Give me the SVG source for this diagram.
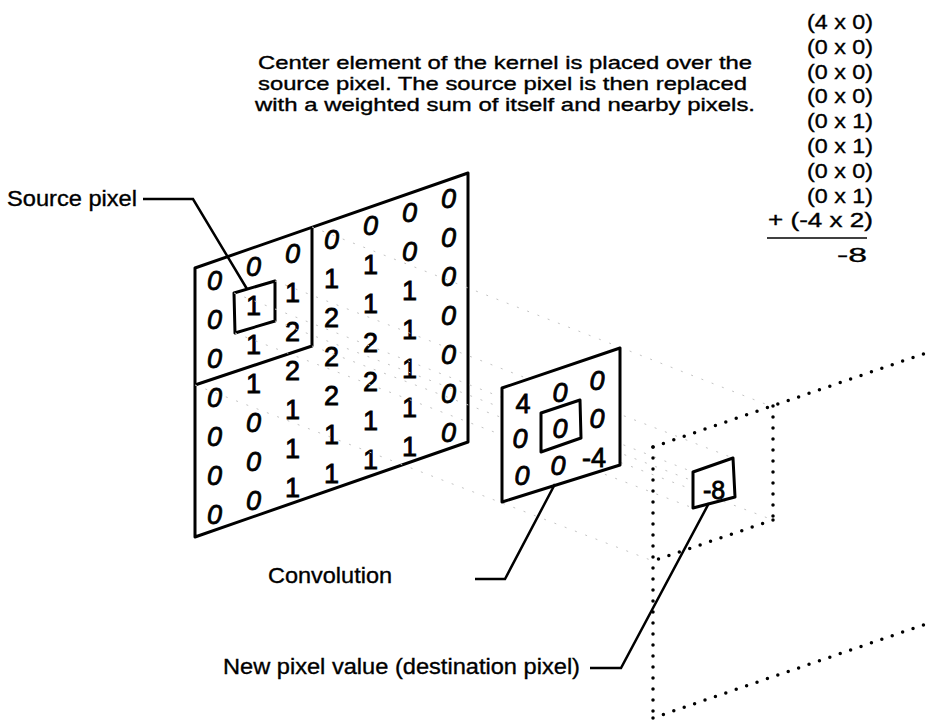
<svg xmlns="http://www.w3.org/2000/svg" width="929" height="721" viewBox="0 0 929 721">
<style>
text{font-family:"Liberation Sans",Arial,sans-serif;fill:#000;stroke:#000;stroke-width:0.35}
.d{font-size:27px;text-anchor:middle;stroke-width:0.8}
.z{font-style:italic}
.panel{fill:#fff;stroke:#000;stroke-width:3;stroke-linejoin:round}
.box{fill:none;stroke:#000;stroke-width:3;stroke-linejoin:round}
.lead{fill:none;stroke:#000;stroke-width:2.5;stroke-linejoin:miter}
.dot{fill:none;stroke:#000;stroke-width:3.5;stroke-linecap:round;stroke-dasharray:0 11}
.proj{fill:none;stroke:#c4c4c4;stroke-width:1;stroke-dasharray:2 9}
.lbl{font-size:22px}
.para{font-size:18.5px}
.col{font-size:20px;text-anchor:end}
</style>
<rect width="929" height="721" fill="#fff"/>

<g id="source-image">
<polygon class="panel" points="195,268 468,173 468,442 195,537"/>
<polyline class="box" points="312,227 312,346 195,385"/>
<g transform="translate(0,1)">
<text class="d z" x="214.5" y="288.7">0</text><text class="d z" x="253.5" y="275.1">0</text><text class="d z" x="292.5" y="261.6">0</text><text class="d z" x="331.5" y="248.0">0</text><text class="d z" x="370.5" y="234.4">0</text><text class="d z" x="409.5" y="220.9">0</text><text class="d z" x="448.5" y="207.3">0</text>
<text class="d z" x="214.5" y="327.7">0</text><text class="d" x="253.5" y="314.1">1</text><text class="d" x="292.5" y="300.6">1</text><text class="d" x="331.5" y="287.0">1</text><text class="d" x="370.5" y="273.4">1</text><text class="d z" x="409.5" y="259.9">0</text><text class="d z" x="448.5" y="246.3">0</text>
<text class="d z" x="214.5" y="366.7">0</text><text class="d" x="253.5" y="353.1">1</text><text class="d" x="292.5" y="339.6">2</text><text class="d" x="331.5" y="326.0">2</text><text class="d" x="370.5" y="312.4">1</text><text class="d" x="409.5" y="298.9">1</text><text class="d z" x="448.5" y="285.3">0</text>
<text class="d z" x="214.5" y="405.7">0</text><text class="d" x="253.5" y="392.1">1</text><text class="d" x="292.5" y="378.6">2</text><text class="d" x="331.5" y="365.0">2</text><text class="d" x="370.5" y="351.4">2</text><text class="d" x="409.5" y="337.9">1</text><text class="d z" x="448.5" y="324.3">0</text>
<text class="d z" x="214.5" y="444.7">0</text><text class="d z" x="253.5" y="431.1">0</text><text class="d" x="292.5" y="417.6">1</text><text class="d" x="331.5" y="404.0">2</text><text class="d" x="370.5" y="390.4">2</text><text class="d" x="409.5" y="376.9">1</text><text class="d z" x="448.5" y="363.3">0</text>
<text class="d z" x="214.5" y="483.7">0</text><text class="d z" x="253.5" y="470.1">0</text><text class="d" x="292.5" y="456.6">1</text><text class="d" x="331.5" y="443.0">1</text><text class="d" x="370.5" y="429.4">1</text><text class="d" x="409.5" y="415.9">1</text><text class="d z" x="448.5" y="402.3">0</text>
<text class="d z" x="214.5" y="522.7">0</text><text class="d z" x="253.5" y="509.1">0</text><text class="d" x="292.5" y="495.6">1</text><text class="d" x="331.5" y="482.0">1</text><text class="d" x="370.5" y="468.4">1</text><text class="d" x="409.5" y="454.9">1</text><text class="d z" x="448.5" y="441.3">0</text>
</g>
</g>

<g id="source-pixel">
<polygon class="box" points="234,293 275,281 275,321 235,333"/>
</g>

<g id="projection-lines">
<line class="proj" x1="312" y1="227" x2="773" y2="407"/>
<line class="proj" x1="312" y1="346" x2="773" y2="520"/>
<line class="proj" x1="195" y1="385" x2="653" y2="561"/>
<line class="proj" x1="235" y1="333" x2="693" y2="508"/>
<line class="proj" x1="234" y1="293" x2="693" y2="472"/>
<line class="proj" x1="275" y1="281" x2="733" y2="458"/>
<line class="proj" x1="275" y1="321" x2="735" y2="497"/>
</g>

<g id="kernel">
<polygon class="panel" points="502,388 620,348 620,465 502,502"/>
<text class="d" x="523" y="412.5">4</text><text class="d z" x="560" y="401.5">0</text><text class="d z" x="597" y="389.5">0</text>
<text class="d z" x="520" y="447.5">0</text><text class="d z" x="560" y="437.5">0</text><text class="d z" x="597" y="427.5">0</text>
<text class="d z" x="522" y="484.5">0</text><text class="d z" x="558" y="474.5">0</text><text class="d" x="594" y="466.5">-4</text>
<polygon class="box" points="541,413 580,400 581,438 541,452"/>
</g>

<g id="destination-image">
<line class="dot" x1="653" y1="447" x2="653" y2="718"/>
<line class="dot" x1="653" y1="447" x2="929" y2="352"/>
<line class="dot" x1="653" y1="718" x2="929" y2="623"/>
<line class="dot" x1="773" y1="406" x2="773" y2="520"/>
<line class="dot" x1="773" y1="520" x2="653" y2="561"/>
</g>

<g id="destination-pixel">
<polygon class="panel" points="693,472 733,458 735,497 693,508"/>
<text class="d" x="714" y="499" style="font-size:25px">-8</text>
</g>

<g id="connectors">
<polyline class="lead" points="143,199 193,199 247,289"/>
<polyline class="lead" points="475,579 505,579 555,484"/>
<polyline class="lead" points="590,668 621,668 709,503"/>
</g>

<g id="labels">
<text class="lbl" x="7" y="206" textLength="130" lengthAdjust="spacingAndGlyphs">Source pixel</text>
<text class="lbl" x="268" y="583" textLength="124" lengthAdjust="spacingAndGlyphs">Convolution</text>
<text class="lbl" x="223" y="674" textLength="357" lengthAdjust="spacingAndGlyphs">New pixel value (destination pixel)</text>
</g>

<g id="description">
<text class="para" x="258" y="69" textLength="494" lengthAdjust="spacingAndGlyphs">Center element of the kernel is placed over the</text>
<text class="para" x="258" y="90" textLength="489" lengthAdjust="spacingAndGlyphs">source pixel. The source pixel is then replaced</text>
<text class="para" x="255" y="111" textLength="500" lengthAdjust="spacingAndGlyphs">with a weighted sum of itself and nearby pixels.</text>
</g>

<g id="calculation">
<text class="col" x="873" y="29" textLength="66" lengthAdjust="spacingAndGlyphs">(4 x 0)</text>
<text class="col" x="873" y="54" textLength="66" lengthAdjust="spacingAndGlyphs">(0 x 0)</text>
<text class="col" x="873" y="79" textLength="66" lengthAdjust="spacingAndGlyphs">(0 x 0)</text>
<text class="col" x="873" y="103" textLength="66" lengthAdjust="spacingAndGlyphs">(0 x 0)</text>
<text class="col" x="873" y="128" textLength="66" lengthAdjust="spacingAndGlyphs">(0 x 1)</text>
<text class="col" x="873" y="153" textLength="66" lengthAdjust="spacingAndGlyphs">(0 x 1)</text>
<text class="col" x="873" y="178" textLength="66" lengthAdjust="spacingAndGlyphs">(0 x 0)</text>
<text class="col" x="873" y="203" textLength="66" lengthAdjust="spacingAndGlyphs">(0 x 1)</text>
<text class="col" x="873" y="227" textLength="105" lengthAdjust="spacingAndGlyphs">+ (-4 x 2)</text>
<line x1="767" y1="238" x2="867" y2="238" stroke="#000" stroke-width="1.5"/>
<text class="col" x="867" y="262" textLength="30" lengthAdjust="spacingAndGlyphs">-8</text>
</g>
</svg>
